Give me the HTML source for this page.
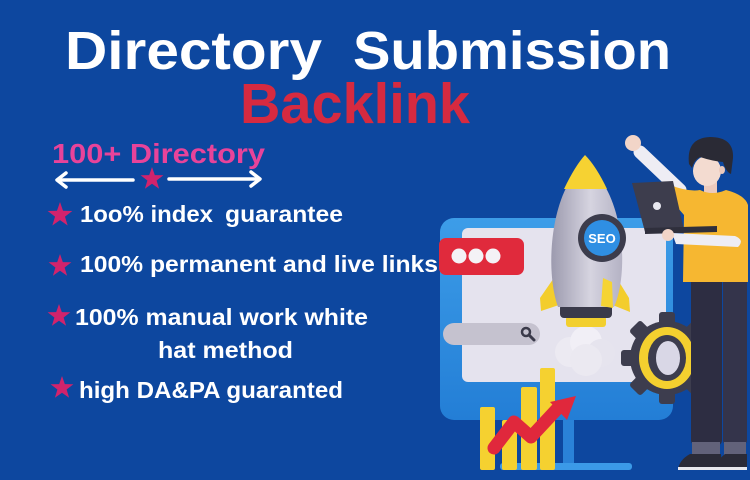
<!DOCTYPE html>
<html>
<head>
<meta charset="utf-8">
<style>
  html,body{margin:0;padding:0;}
  body{width:750px;height:480px;overflow:hidden;background:#0d479f;}
  svg{display:block;}
  .t{font-family:"Liberation Sans",sans-serif;font-weight:bold;}
</style>
</head>
<body>
<svg width="750" height="480" viewBox="0 0 750 480" xmlns="http://www.w3.org/2000/svg">
  <defs>
    <linearGradient id="rk" x1="0" y1="0" x2="1" y2="0">
      <stop offset="0" stop-color="#9c9aae"/>
      <stop offset="0.55" stop-color="#d6d4e0"/>
      <stop offset="1" stop-color="#b4b2c4"/>
    </linearGradient>
    <linearGradient id="mf" x1="0" y1="0" x2="0" y2="1">
      <stop offset="0" stop-color="#3d9de8"/>
      <stop offset="1" stop-color="#237ed6"/>
    </linearGradient>
    <polygon id="star" points="0,-12 2.8,-3.9 11.4,-3.7 4.6,1.5 7.1,9.7 0,4.8 -7.1,9.7 -4.6,1.5 -11.4,-3.7 -2.8,-3.9" />
  </defs>
  <rect width="750" height="480" fill="#0d479f"/>

  <!-- Title -->
  <text class="t" x="65" y="69" font-size="54" fill="#ffffff" textLength="257" lengthAdjust="spacingAndGlyphs">Directory</text>
  <text class="t" x="353" y="69" font-size="54" fill="#ffffff" textLength="318" lengthAdjust="spacingAndGlyphs">Submission</text>
  <text class="t" x="240" y="123" font-size="57" fill="#d62a40" textLength="230" lengthAdjust="spacingAndGlyphs">Backlink</text>

  <!-- 100+ Directory -->
  <text class="t" x="52" y="163" font-size="28" fill="#e8439a" textLength="213" lengthAdjust="spacingAndGlyphs">100+ Directory</text>
  <!-- arrows -->
  <g stroke="#ffffff" stroke-width="3.5" stroke-linecap="round" stroke-linejoin="round" fill="none">
    <line x1="58" y1="180" x2="133" y2="180"/>
    <polyline points="66,173 57,180 66,187"/>
    <line x1="169" y1="179" x2="258" y2="179"/>
    <polyline points="251,172 260,179 251,186"/>
  </g>
  <g fill="#d1236c">
    <use href="#star" transform="translate(152,179)"/>
    <use href="#star" transform="translate(60,215) scale(1.08)"/>
    <use href="#star" transform="translate(60,266)"/>
    <use href="#star" transform="translate(59,316)"/>
    <use href="#star" transform="translate(62,388)"/>
  </g>

  <!-- bullets -->
  <g class="t" fill="#ffffff" font-size="23">
    <text x="80" y="222" textLength="133" lengthAdjust="spacingAndGlyphs">1oo% index</text>
    <text x="225" y="222" textLength="118" lengthAdjust="spacingAndGlyphs">guarantee</text>
    <text x="80" y="272" textLength="358" lengthAdjust="spacingAndGlyphs">100% permanent and live links</text>
    <text x="75" y="325" textLength="293" lengthAdjust="spacingAndGlyphs">100% manual work white</text>
    <text x="158" y="358" textLength="135" lengthAdjust="spacingAndGlyphs">hat method</text>
    <text x="79" y="398" textLength="264" lengthAdjust="spacingAndGlyphs">high DA&amp;PA guaranted</text>
  </g>

  <!-- Monitor -->
  <rect x="563" y="415" width="11" height="52" fill="#2a82d8"/>
  <rect x="500" y="463" width="132" height="7" rx="3" fill="#3b9ae8"/>
  <rect x="440" y="218" width="233" height="202" rx="14" fill="url(#mf)"/>
  <rect x="462" y="228" width="204" height="154" rx="6" fill="#e5e3ee"/>

  <!-- red pill -->
  <rect x="439" y="238" width="85" height="37" rx="7" fill="#e02a3c"/>
  <circle cx="459" cy="256" r="7.5" fill="#f4f2f6"/>
  <circle cx="476" cy="256" r="7.5" fill="#f4f2f6"/>
  <circle cx="493" cy="256" r="7.5" fill="#f4f2f6"/>

  <!-- search bar -->
  <rect x="443" y="323" width="97" height="22" rx="11" fill="#c5c2cf"/>
  <circle cx="526" cy="332" r="4" fill="none" stroke="#3a3a4a" stroke-width="2.5"/>
  <line x1="529" y1="335" x2="534" y2="340" stroke="#3a3a4a" stroke-width="3" stroke-linecap="round"/>

  <!-- Rocket -->
  <circle cx="570" cy="352" r="15" fill="#eceaf2"/>
  <circle cx="586" cy="342" r="16" fill="#f1eff6"/>
  <circle cx="601" cy="353" r="14" fill="#e6e4ee"/>
  <circle cx="586" cy="360" r="16" fill="#ebe9f1"/>
  <rect x="566" y="316" width="40" height="11" rx="3" fill="#f2cf2e"/>
  <rect x="560" y="304" width="52" height="14" rx="4" fill="#3a3a4a"/>
  <path d="M558 272 L540 298 L541 311 L562 304 Z" fill="#f3cd2c"/>
  <path d="M613 272 L629 298 L630 312 L610 304 Z" fill="#f3cd2c"/>
  <path d="M566 188 C 548 225, 548 280, 558 307 L 614 307 C 626 280, 626 225, 606 188 Z" fill="url(#rk)"/>
  <path d="M603 278 L612 282 L613 308 L601 306 Z" fill="#f5d434"/>
  <path d="M585 155 Q 596 166 607 189 L 564 189 Q 575 166 585 155 Z" fill="#f6d232"/>
  <circle cx="602" cy="238" r="24" fill="#3c3c4c"/>
  <circle cx="602" cy="238" r="18" fill="#2f8fe3"/>
  <text class="t" x="602" y="243" font-size="13" fill="#ffffff" text-anchor="middle">SEO</text>

  <!-- Gear -->
  <g transform="translate(667,358)" fill="#3d3d4e">
    <circle r="37"/>
    <rect x="-8" y="-46" width="16" height="16" rx="3"/>
    <rect x="-8" y="-46" width="16" height="16" rx="3" transform="rotate(45)"/>
    <rect x="-8" y="-46" width="16" height="16" rx="3" transform="rotate(90)"/>
    <rect x="-8" y="-46" width="16" height="16" rx="3" transform="rotate(135)"/>
    <rect x="-8" y="-46" width="16" height="16" rx="3" transform="rotate(180)"/>
    <rect x="-8" y="-46" width="16" height="16" rx="3" transform="rotate(225)"/>
    <rect x="-8" y="-46" width="16" height="16" rx="3" transform="rotate(270)"/>
    <rect x="-8" y="-46" width="16" height="16" rx="3" transform="rotate(315)"/>
    <ellipse rx="28" ry="31" fill="#f4d02f"/>
    <ellipse rx="19" ry="23" fill="#3d3d4e"/>
    <ellipse cx="1" rx="12" ry="17" fill="#d9d7e6"/>
  </g>

  <!-- Chart -->
  <g fill="#f5d130">
    <rect x="480" y="407" width="15" height="63" rx="2"/>
    <rect x="502" y="420" width="15" height="50" rx="2"/>
    <rect x="521" y="387" width="16" height="83" rx="2"/>
    <rect x="540" y="368" width="15" height="102" rx="2"/>
  </g>
  <polyline points="494,448 514,422 531,437 558,408" fill="none" stroke="#e0283c" stroke-width="13" stroke-linejoin="round" stroke-linecap="round"/>
  <polygon points="576,396 567,420 550,402" fill="#e0283c"/>

  <!-- Person -->
  <!-- legs -->
  <rect x="691" y="276" width="31" height="170" rx="6" fill="#2d2d42"/>
  <rect x="723" y="276" width="24" height="170" rx="6" fill="#34344b"/>
  <rect x="692" y="442" width="28" height="14" fill="#62627a"/>
  <rect x="724" y="442" width="22" height="14" fill="#62627a"/>
  <path d="M690 454 L721 454 L722 470 L678 470 Q 679 460 690 454 Z" fill="#2b2b38"/>
  <path d="M725 454 L747 454 L747 470 L716 470 Q 717 460 725 454 Z" fill="#2b2b38"/>
  <rect x="678" y="467" width="44" height="3" fill="#e8e8ee"/>
  <rect x="716" y="467" width="31" height="3" fill="#e8e8ee"/>
  <!-- raised arm -->
  <line x1="640" y1="152" x2="680" y2="190" stroke="#eeedf4" stroke-width="13" stroke-linecap="round"/>
  <circle cx="633" cy="143" r="8" fill="#f2d5c8"/>
  <!-- neck & head -->
  <rect x="704" y="178" width="13" height="16" fill="#eccabd"/>
  <ellipse cx="707" cy="171" rx="14" ry="15" fill="#f3dbd0"/>
  <path d="M689 164 Q 686 138 710 137 Q 734 137 733 158 L 731 174 Q 726 172 723 162 Q 712 161 700 157 Q 694 160 692 168 Z" fill="#2a2a35"/>
  <ellipse cx="722" cy="170" rx="3" ry="4" fill="#eccabd"/>
  <!-- shirt -->
  <path d="M670 185 Q 688 192 700 190 Q 712 196 726 190 Q 745 195 748 205 L 748 282 L 683 282 L 684 215 Q 676 205 664 196 Z" fill="#f6b731"/>
  <!-- laptop -->
  <polygon points="632,183 673,181 684,230 645,232" fill="#3d3d4d"/>
  <circle cx="657" cy="206" r="4" fill="#e8e8f0"/>
  <polygon points="645,228 717,226 717,232 645,234" fill="#2f2f3c"/>
  <!-- front arm -->
  <path d="M672 233 L 735 236 Q 745 240 738 247 L 676 244 Z" fill="#eeedf4"/>
  <circle cx="668" cy="235" r="6" fill="#f2d5c8"/>
</svg>
</body>
</html>
